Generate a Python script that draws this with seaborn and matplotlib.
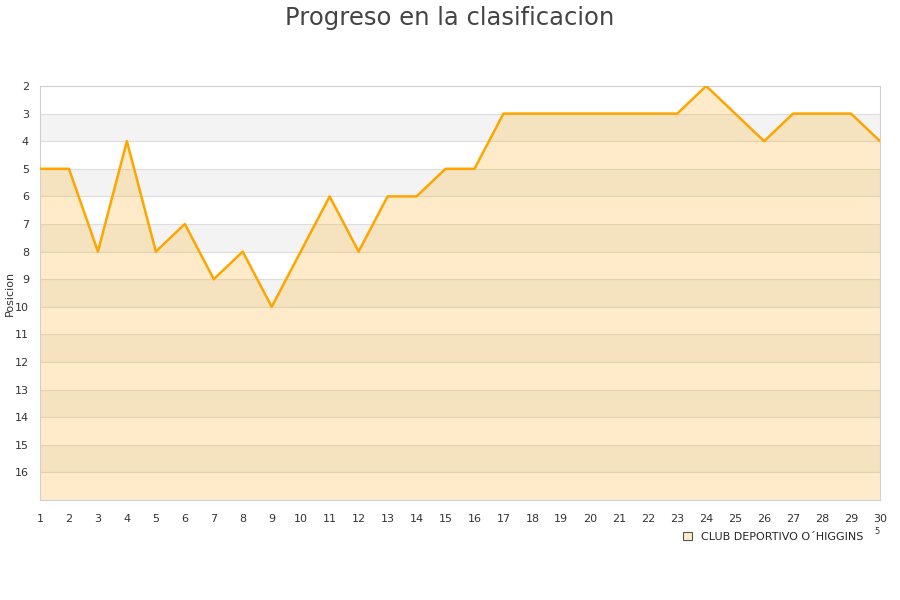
import pandas as pd
import seaborn as sns
import matplotlib.pyplot as plt
from matplotlib.patches import Patch

# Datos
jornadas = list(range(1, 31))
posiciones = [5, 5, 8, 4, 8, 7, 9, 8, 10, 8, 6, 8, 6, 6, 5, 5, 3, 3, 3, 3,
              3, 3, 3, 2, 3, 4, 3, 3, 3, 4]
equipo = "CLUB DEPORTIVO O´HIGGINS"
y_ticks = list(range(2, 17))

df = pd.DataFrame({"Jornada": jornadas, "Posicion": posiciones})

sns.set_style("white")
fig = plt.figure(figsize=(9, 6), dpi=100)
ax = fig.add_axes([40 / 900, 100 / 600, 840 / 900, 414 / 600])

# bandas alternas
for y in range(3, 17, 2):
    ax.axhspan(y, y + 1, color="#f3f3f3", zorder=0, lw=0)
for y in range(3, 17):
    ax.axhline(y, color="#dddddd", lw=0.8, zorder=1)

ax.fill_between(df["Jornada"], df["Posicion"], 17, color="#ffa500", alpha=0.21, lw=0, zorder=2)
sns.lineplot(data=df, x="Jornada", y="Posicion", color="#ffa500", lw=1.8, ax=ax, zorder=3)

ax.set_xlim(1, 30)
ax.set_ylim(17, 2)
ax.set_xticks(jornadas)
ax.set_yticks(y_ticks)
ax.tick_params(axis="both", labelsize=8, colors="#333333", length=0, pad=10)
ax.tick_params(axis="y", pad=8)
ax.set_xlabel("")
ax.set_ylabel("Posicion", fontsize=8, color="#333333")
ax.yaxis.set_label_coords(-0.03, 0.5)
for s in ax.spines.values():
    s.set_color("#d0d0d0")
    s.set_linewidth(0.8)

fig.suptitle("Progreso en la clasificacion", y=0.99, fontsize=17.5, color="#444444")

handle = Patch(facecolor="#ffecc8", edgecolor="#555555", lw=0.8)
fig.legend([handle], [equipo], loc="center right", bbox_to_anchor=(0.97, 0.105),
           frameon=False, fontsize=8, handlelength=0.8, handleheight=0.8)
fig.text(0.971, 0.114, "5", fontsize=6, color="#333333", va="center")

fig.savefig("out.png", dpi=100)
plt.close()
